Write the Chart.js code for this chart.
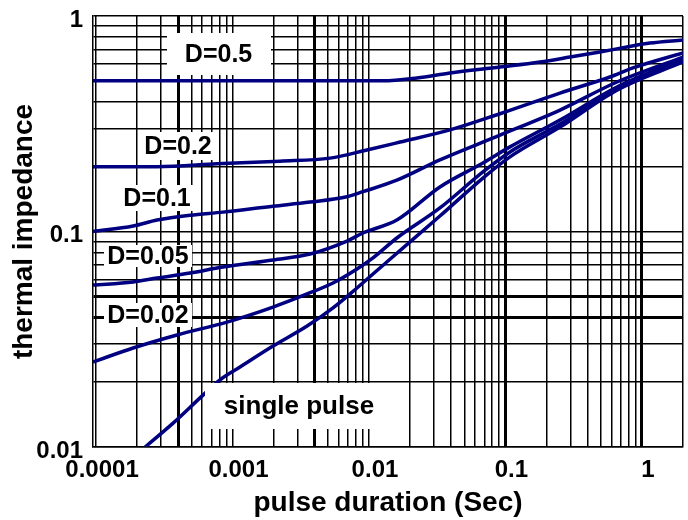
<!DOCTYPE html>
<html>
<head>
<meta charset="utf-8">
<script src="https://cdn.jsdelivr.net/npm/chart.js@4/dist/chart.umd.min.js"></script>
<style>
html,body{margin:0;padding:0;background:#fff;}
#wrap{width:688px;height:520px;position:relative;}
</style>
</head>
<body>
<div id="wrap"><canvas id="c"></canvas></div>
<script>
// ---- data: pulse duration (s) and thermal impedance ----
const seriesNames = ['D=0.5', 'D=0.2', 'D=0.1', 'D=0.05', 'D=0.02', 'single pulse'];

const tD05 = [0.000095, 0.0127, 0.0225, 0.0392, 0.0912, 0.179, 0.297, 0.492, 0.776, 1.14, 2];
const zD05 = [0.5, 0.5, 0.516, 0.544, 0.58, 0.612, 0.645, 0.681, 0.718, 0.749, 0.774];

const tD02 = [0.000095, 0.00028, 0.00077, 0.00223, 0.00518, 0.00966, 0.0169, 0.0392, 0.0912, 0.251, 0.583, 0.859, 2];
const zD02 = [0.2, 0.2, 0.206, 0.212, 0.219, 0.239, 0.26, 0.296, 0.352, 0.439, 0.521, 0.574, 0.674];

const tD01 = [0.000095, 0.000187, 0.00028, 0.000489, 0.000851, 0.00198, 0.0037, 0.0069, 0.00904, 0.016, 0.0331, 0.0912, 0.251, 0.656, 2];
const zD01 = [0.1, 0.106, 0.113, 0.119, 0.123, 0.131, 0.137, 0.145, 0.153, 0.173, 0.215, 0.28, 0.366, 0.494, 0.645];

const tD005 = [0.000095, 0.000187, 0.00028, 0.000489, 0.000851, 0.00198, 0.0037, 0.0069, 0.00904, 0.016, 0.0331, 0.0684, 0.108, 0.251, 0.656, 2];
const zD005 = [0.0564, 0.0583, 0.0608, 0.0642, 0.0684, 0.0738, 0.0786, 0.0903, 0.0984, 0.113, 0.161, 0.208, 0.247, 0.329, 0.468, 0.632];

const tD002 = [0.000095, 0.000187, 0.000392, 0.000912, 0.00198, 0.00352, 0.00545, 0.00817, 0.0107, 0.016, 0.0331, 0.0684, 0.108, 0.251, 0.656, 2];
const zD002 = [0.0248, 0.0288, 0.0331, 0.038, 0.0446, 0.0513, 0.0577, 0.067, 0.0754, 0.0933, 0.1286, 0.189, 0.234, 0.315, 0.458, 0.618];

const tSingle = [0.000229, 0.000367, 0.000608, 0.00081, 0.001135, 0.00198, 0.00352, 0.00545, 0.00817, 0.0135, 0.0331, 0.0684, 0.108, 0.251, 0.656, 2];
const zSingle = [0.01, 0.0129, 0.0174, 0.0205, 0.0235, 0.0294, 0.0364, 0.0442, 0.0547, 0.0722, 0.118, 0.177, 0.222, 0.305, 0.453, 0.612];

// ---- axes ----
const xMin = 0.000095, xMax = 2;
const yMin = 0.01, yMax = 1;
const xTickValues = [0.0001, 0.001, 0.01, 0.1, 1];
const xTickLabels = ['0.0001', '0.001', '0.01', '0.1', '1'];
const yTickValues = [0.01, 0.1, 1];
const yTickLabels = ['0.01', '0.1', '1'];
const gridMultipliers = [1, 2, 3, 4, 5, 6, 7, 8, 9];
const xDecades = [0.0001, 0.001, 0.01, 0.1];
const yDecades = [0.01, 0.1];
const xThick = [0.0004, 0.004, 0.1, 1];
const yThick = [0.04, 0.05];

// ---- in-plot labels ----
const noteTexts = ['D=0.5', 'D=0.2', 'D=0.1', 'D=0.05', 'D=0.02', 'single pulse'];
const noteAt = [[0.00079, 0.666], [0.000399, 0.249], [0.00028, 0.143], [0.00024, 0.077], [0.00024, 0.041], [0.00307, 0.0155]];
const noteBox = [[104, 42], [70, 28], [76, 26], [88, 22], [88, 24], [188, 46]];
const noteFont = [25, 25, 25, 25, 25, 26];

// ---- build ----
const FONT = "'Liberation Sans', Arial, Helvetica, sans-serif";
const LINE = '#000080';
const pairs = [[tD05, zD05], [tD02, zD02], [tD01, zD01], [tD005, zD005], [tD002, zD002], [tSingle, zSingle]];

const xGrid = [];
xDecades.forEach(d => gridMultipliers.forEach(m => xGrid.push(d * m)));
xGrid.push(1, xMax);
const yGrid = [];
yDecades.forEach(d => gridMultipliers.forEach(m => yGrid.push(d * m)));
yGrid.push(yMax);

const near = (v, list) => list.some(a => Math.abs(v / a - 1) < 1e-6);
const labelFor = (v, vals, labs) => {
  const i = vals.findIndex(a => Math.abs(v / a - 1) < 1e-6);
  return i >= 0 ? labs[i] : '';
};

const datasets = pairs.map((p, i) => ({
  label: seriesNames[i],
  data: p[0].map((t, k) => ({x: t, y: p[1][k]})),
  borderColor: LINE,
  backgroundColor: LINE,
  borderWidth: 3.5,
  pointRadius: 0,
  cubicInterpolationMode: 'monotone',
  fill: false
}));

const notesPlugin = {
  id: 'notes',
  afterDatasetsDraw(chart) {
    const {ctx, scales} = chart;
    ctx.save();
    noteTexts.forEach((txt, i) => {
      const cx = scales.x.getPixelForValue(noteAt[i][0]);
      const cy = scales.y.getPixelForValue(noteAt[i][1]);
      const [w, h] = noteBox[i];
      ctx.fillStyle = '#ffffff';
      ctx.fillRect(Math.round(cx - w / 2), Math.round(cy - h / 2), w, h);
      ctx.fillStyle = '#000000';
      ctx.font = 'bold ' + noteFont[i] + 'px ' + FONT;
      ctx.textAlign = 'center';
      ctx.textBaseline = 'middle';
      ctx.fillText(txt, cx, cy + 1);
    });
    ctx.restore();
  }
};

const zeroPad = s => { s.paddingLeft = 0; s.paddingRight = 0; s.paddingTop = 0; s.paddingBottom = 0; };

new Chart(document.getElementById('c'), {
  type: 'line',
  data: {datasets},
  plugins: [notesPlugin],
  options: {
    responsive: true,
    maintainAspectRatio: false,
    animation: false,
    layout: {padding: {top: 16, right: 5, bottom: 0, left: 0}},
    plugins: {legend: {display: false}, tooltip: {enabled: false}},
    scales: {
      x: {
        type: 'logarithmic',
        position: 'bottom',
        min: xMin,
        max: xMax,
        afterBuildTicks: s => { s.ticks = xGrid.map(v => ({value: v})); },
        afterFit: s => { s.height = 73; zeroPad(s); },
        grid: {
          color: '#000',
          lineWidth: c => (c.tick && near(c.tick.value, xThick)) ? 3 : 1.5,
          drawTicks: false
        },
        border: {display: true, color: '#000', width: 1.5},
        ticks: {
          autoSkip: false, maxRotation: 0, minRotation: 0,
          padding: 9, labelOffset: 6, color: '#000',
          font: {family: FONT, size: 24, weight: 'bold'},
          callback: v => labelFor(v, xTickValues, xTickLabels)
        },
        title: {
          display: true, text: 'pulse duration (Sec)', color: '#000',
          font: {family: FONT, size: 28, weight: 'bold'},
          padding: {top: 0, bottom: 0}
        }
      },
      y: {
        type: 'logarithmic',
        position: 'left',
        min: yMin,
        max: yMax,
        afterBuildTicks: s => { s.ticks = yGrid.map(v => ({value: v})); },
        afterFit: s => { s.width = 93; zeroPad(s); },
        grid: {
          color: '#000',
          lineWidth: c => (c.tick && near(c.tick.value, yThick)) ? 3 : 1.5,
          drawTicks: false
        },
        border: {display: true, color: '#000', width: 1.5},
        ticks: {
          autoSkip: false, padding: 10, labelOffset: 4, color: '#000',
          font: {family: FONT, size: 24, weight: 'bold'},
          callback: v => labelFor(v, yTickValues, yTickLabels)
        },
        title: {
          display: true, text: 'thermal impedance', color: '#000',
          font: {family: FONT, size: 28, weight: 'bold'},
          padding: {top: 7, bottom: 0}
        }
      }
    }
  }
});
</script>
</body>
</html>
